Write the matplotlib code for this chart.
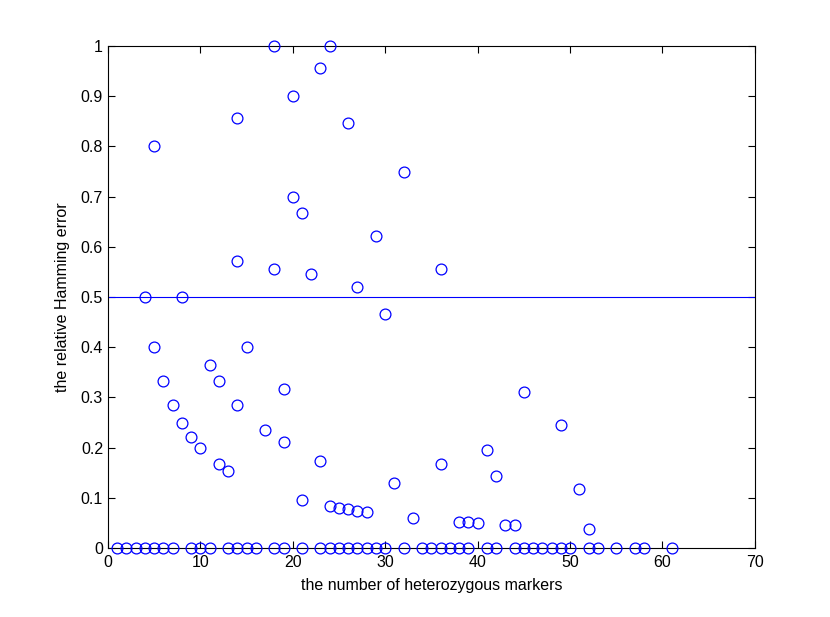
import numpy as np
import matplotlib
matplotlib.use('Agg')
import matplotlib.pyplot as plt

plt.rcParams['font.family'] = ['Liberation Sans', 'DejaVu Sans']

# puntos con error cero
zero_x = [1, 2, 3, 4, 5, 6, 7, 9, 10, 11, 13, 14, 15, 16, 18, 19, 21, 23, 24, 25,
          26, 27, 28, 29, 30, 32, 34, 35, 36, 37, 38, 39, 41, 42, 44, 45, 46, 47,
          48, 49, 50, 52, 53, 55, 57, 58, 61]

# puntos con error distinto de cero
err_x = [4, 5, 5, 6, 7, 8, 8, 9, 10, 11, 12, 12, 13, 14, 14, 14, 15, 17, 18, 18,
         19, 19, 20, 20, 21, 21, 22, 23, 23, 24, 24, 25, 26, 26, 27, 27, 28, 29,
         30, 31, 32, 33, 36, 36, 38, 39, 40, 41, 42, 43, 44, 45, 49, 51, 52]
err_y = [0.5, 0.8, 0.4, 0.333, 0.2857, 0.5, 0.25, 0.222, 0.2, 0.364, 0.333, 0.1667,
         0.1538, 0.857, 0.571, 0.2857, 0.4, 0.235, 1.0, 0.556, 0.316, 0.2105, 0.9,
         0.7, 0.667, 0.0952, 0.545, 0.9565, 0.1739, 1.0, 0.0833, 0.08, 0.846, 0.0769,
         0.519, 0.0741, 0.0714, 0.621, 0.467, 0.129, 0.75, 0.0606, 0.556, 0.1667,
         0.0526, 0.0513, 0.05, 0.195, 0.1429, 0.0465, 0.0455, 0.311, 0.245, 0.1176,
         0.0385]

threshold = 0.5

x_all = zero_x + err_x
y_all = [0.0] * len(zero_x) + err_y

fig = plt.figure(figsize=(8.3, 6.17), dpi=100)
ax = fig.add_axes([0.13, 0.1118, 0.7795, 0.8136])

ax.plot(x_all, y_all, 'o', mfc='none', mec='blue', ms=7.8, mew=0.9, clip_on=False, zorder=3)
ax.plot([0, 70], [threshold, threshold], color='blue', lw=0.8)

ax.set_xlim(0, 70)
ax.set_ylim(0, 1)
ax.set_xticks(np.arange(0, 71, 10))
ax.set_yticks(np.arange(0, 1.01, 0.1))
ax.set_yticklabels(['0', '0.1', '0.2', '0.3', '0.4', '0.5', '0.6', '0.7', '0.8', '0.9', '1'])
ax.tick_params(direction='in', top=True, right=True, length=5, labelsize=11.5, width=0.8)
ax.tick_params(axis='x', pad=5)
for s in ax.spines.values():
    s.set_linewidth(0.8)

ax.set_xlabel('the number of heterozygous markers', fontsize=11.5, labelpad=6)
ax.set_ylabel('the relative Hamming error', fontsize=11.5, labelpad=8)

fig.savefig('out.png', dpi=100)
